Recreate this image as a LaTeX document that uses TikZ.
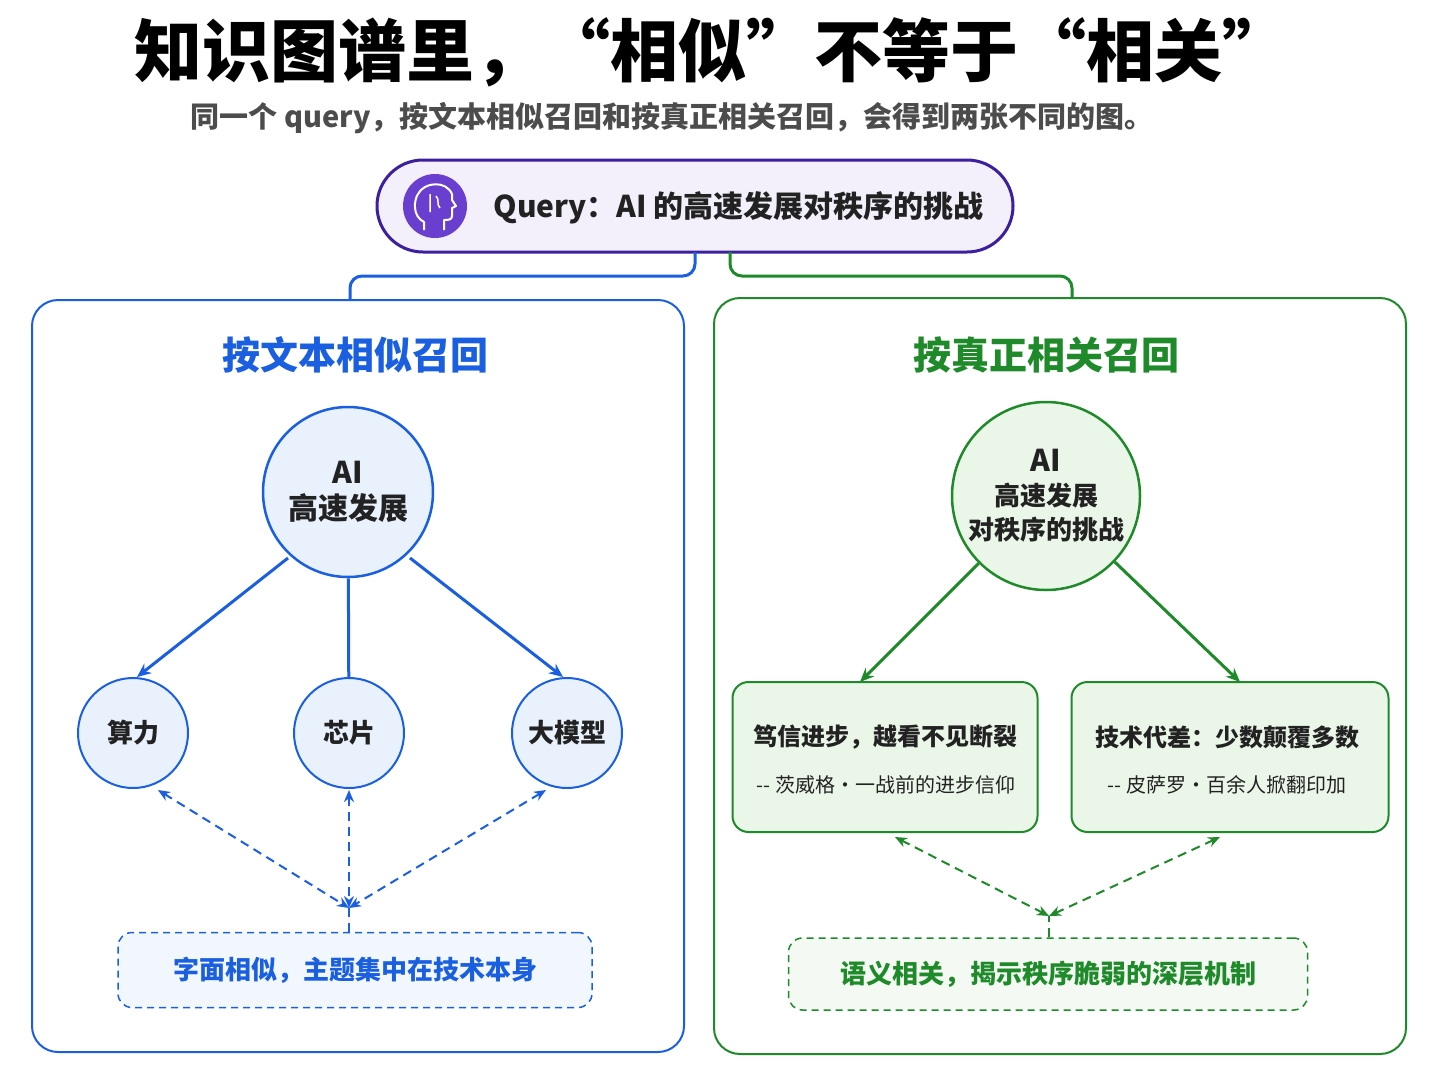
\documentclass[tikz,border=0pt]{standalone}
\usepackage{fontspec}
\setmainfont{Noto Sans CJK SC}
\usetikzlibrary{arrows.meta}
\definecolor{bl}{HTML}{1A5FE0}
\definecolor{blf}{HTML}{E9F1FD}
\definecolor{gr}{HTML}{1E8A2A}
\definecolor{grf}{HTML}{EAF6E8}
\definecolor{pu}{HTML}{3B1F9E}
\definecolor{puf}{HTML}{F3F0FB}
\definecolor{ic}{HTML}{6A3FD0}
\definecolor{tx}{HTML}{222222}
\newcommand{\fs}[1]{\fontsize{#1}{#1}\selectfont}
\begin{document}
\begin{tikzpicture}[x=1pt,y=-1pt,
  panel/.style={draw=#1,line width=2pt,rounded corners=26pt,fill=white},
  bigc/.style={circle,draw=#1,line width=2.5pt,inner sep=0pt},
  smc/.style={circle,draw=bl,fill=blf,line width=2pt,minimum size=110pt,inner sep=0pt,text=tx,font=\fs{26}\bfseries},
  gbox/.style={draw=gr,fill=grf,line width=2pt,rounded corners=16pt,text=tx,align=center},
  dbox/.style={draw=#1,dash pattern=on 7pt off 5pt,line width=1.5pt,rounded corners=14pt,font=\fs{26}\bfseries,text=#1},
  ar/.style={line width=3pt,-{Stealth[length=14pt,width=12pt]}},
  da/.style={line width=2pt,dash pattern=on 9pt off 6pt,{Stealth[length=12pt,width=10pt]}-{Stealth[length=12pt,width=10pt]}}]
\useasboundingbox[fill=white] (0,0) rectangle (1446,1088);
\node[font=\fs{68}\bfseries] (title) at (712,52) {知识图谱里，“相似”不等于“相关”};
\node[font=\fs{29}\bfseries,text=black!70] (sub) at (672,118) {同一个 query，按文本相似召回和按真正相关召回，会得到两张不同的图。};
% query
\node[draw=pu,fill=puf,line width=3pt,rounded corners=46pt,minimum width=636pt,minimum height=92pt] (q) at (695,206) {};
\node[circle,fill=ic,minimum size=64pt,inner sep=0pt] (icon) at (435,206) {};
\draw[white,line width=2pt,line join=round] (424,230) -- (424,222) .. controls (412,216) and (414,200) .. (418,194) .. controls (424,182) and (446,180) .. (452,194) -- (452,200) -- (456,206) -- (452,208) -- (452,216) .. controls (452,220) and (448,220) .. (444,220) -- (444,230);
\draw[white,line width=1.5pt] (430,194) -- (430,212) (436,196) .. controls (440,200) and (436,204) .. (440,208);
\node[font=\fs{30}\bfseries,text=tx,anchor=west] (qt) at (490,208) {Query：AI 的高速发展对秩序的挑战};
% panels
\node[panel=bl,minimum width=652pt,minimum height=752pt] (lp) at (358,676) {};
\node[panel=gr,minimum width=692pt,minimum height=756pt] (rp) at (1060,676) {};
\coordinate (lq) at (695,252);\coordinate (rq) at (730,252);
\draw[bl,line width=3pt,rounded corners=12pt] (lq) -- (695,276) -- (350,276) -- (lp.north -| 350,0);
\draw[gr,line width=3pt,rounded corners=12pt] (rq) -- (730,276) -- (1072,276) -- (rp.north -| 1072,0);
\node[font=\fs{38}\bfseries,text=bl] (lt) at (355,355) {按文本相似召回};
\node[font=\fs{38}\bfseries,text=gr] (rt) at (1046,355) {按真正相关召回};
% left
\node[bigc=bl,fill=blf,minimum size=170pt,align=center,text=tx,font=\fs{30}\bfseries] (lc) at (348,492) {AI\\[6pt]高速发展};
\node[smc] (s1) at (133,733) {算力};
\node[smc] (s2) at (349,733) {芯片};
\node[smc] (s3) at (567,733) {大模型};
\coordinate (e1) at (137,677);\coordinate (e3) at (563,677);
\draw[bl,ar] (288,558) -- (e1);
\draw[bl,line width=3pt] (lc) -- (s2);
\draw[bl,ar] (410,558) -- (e3);
\node[dbox=bl,fill=blf!60,minimum width=474pt,minimum height=75pt] (lb) at (355,970) {字面相似，主题集中在技术本身};
\coordinate (lj) at (349,908);
\draw[bl,line width=2pt,dash pattern=on 9pt off 6pt] (lb.north -| lj) -- (lj);
\draw[bl,da] (158,790) -- (lj);
\draw[bl,da] (349,790) -- (lj);
\draw[bl,da] (546,790) -- (lj);
% right
\node[bigc=gr,fill=grf,minimum size=188pt,align=center,text=tx,font=\fs{26}\bfseries] (rc) at (1046,496) {{\fs{30}AI}\\[8pt]高速发展\\[8pt]对秩序的挑战};
\node[gbox,minimum width=305pt,minimum height=150pt] (b1) at (885,757) {};
\node[font=\fs{24}\bfseries,text=tx] (b1a) at (885,737) {笃信进步，越看不见断裂};
\node[font=\fs{20},text=tx] (b1b) at (886,785) {{-}{-} 茨威格·一战前的进步信仰};
\node[gbox,minimum width=317pt,minimum height=150pt] (b2) at (1230,757) {};
\node[font=\fs{24}\bfseries,text=tx] (b2a) at (1227,737) {技术代差：少数颠覆多数};
\node[font=\fs{20},text=tx] (b2b) at (1227,785) {{-}{-} 皮萨罗·百余人掀翻印加};
\draw[gr,ar] (rc) -- (860,682);
\draw[gr,ar] (rc) -- (1240,682);
\node[dbox=gr,fill=grf!50,minimum width=519pt,minimum height=72pt] (rb) at (1048,974) {语义相关，揭示秩序脆弱的深层机制};
\coordinate (rj) at (1049,916);
\draw[gr,line width=2pt,dash pattern=on 9pt off 6pt] (rb.north -| rj) -- (rj);
\draw[gr,da] (895,837) -- (rj);
\draw[gr,da] (1220,837) -- (rj);
\end{tikzpicture}
\end{document}
